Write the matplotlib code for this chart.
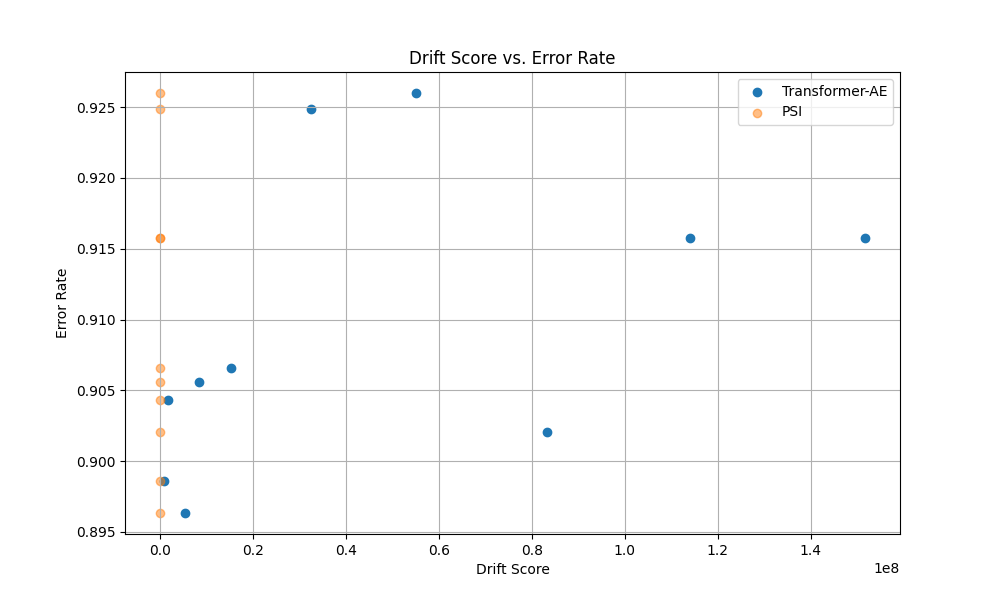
import matplotlib
matplotlib.use("Agg")
import matplotlib.pyplot as plt

# error rate per evaluation window (shared by both detectors)
error_rate = [0.92599, 0.92486, 0.91577, 0.91577, 0.90655,
              0.90556, 0.90430, 0.90204, 0.89859, 0.89634]

# drift scores per detector
tae_score = [0.5512e8, 0.3254e8, 1.1404e8, 1.5161e8, 0.152e8,
             0.0845e8, 0.0178e8, 0.8316e8, 0.0073e8, 0.0523e8]
psi_score = [0.0, 0.0, 0.0, 0.0, 0.0,
             0.0, 0.0, 0.0, 0.0, 0.0]

fig, ax = plt.subplots(figsize=(10, 6), dpi=100)
ax.scatter(tae_score, error_rate, label="Transformer-AE")
ax.scatter(psi_score, error_rate, label="PSI", alpha=0.5)
ax.set_xlabel("Drift Score")
ax.set_ylabel("Error Rate")
ax.set_title("Drift Score vs. Error Rate")
ax.legend(loc="upper right")
ax.grid(True)
fig.savefig("out.png")
